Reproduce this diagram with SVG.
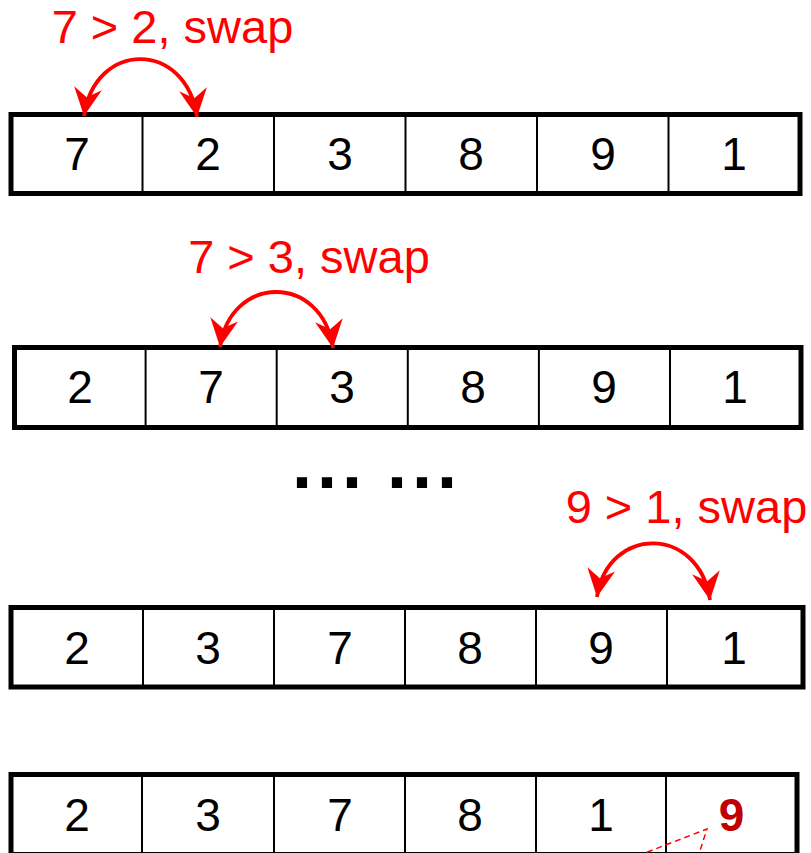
<svg xmlns="http://www.w3.org/2000/svg" width="811" height="853" viewBox="0 0 811 853">
<defs>
<style>
.frame{fill:#fff;stroke:#000;stroke-width:5}
.div{stroke:#000;stroke-width:2}
.num{font-family:"Liberation Sans",Arial,sans-serif;font-size:46px;text-anchor:middle;fill:#000}
.lbl{font-family:"Liberation Sans",Arial,sans-serif;font-size:47px;text-anchor:middle;fill:#ff0000}
.arc{fill:none;stroke:#ff0000;stroke-width:3.8}
.dots{font-family:"Liberation Sans",Arial,sans-serif;font-size:72px;font-weight:bold;fill:#000}
.hl{font-family:"Liberation Sans",Arial,sans-serif;font-size:46px;font-weight:bold;text-anchor:middle;fill:#c00000}
.dash{fill:none;stroke:#ff0000;stroke-width:1.5;stroke-dasharray:6 4}
</style>
<marker id="ah" viewBox="-30 -15 31 30" refX="0" refY="0" markerWidth="31" markerHeight="30" markerUnits="userSpaceOnUse" orient="auto-start-reverse" overflow="visible">
<path d="M0,0 L-28,-14 L-19,0 L-28,14 Z" fill="#ff0000"/>
</marker>
</defs>
<rect width="811" height="853" fill="#fff"/>

<g id="row1">
<rect class="frame" x="11" y="114.5" width="789" height="79"/>
<path class="div" d="M142.5,114.5V193.5M274,114.5V193.5M405.5,114.5V193.5M537,114.5V193.5M668.5,114.5V193.5"/>
<text class="num" x="77" y="170">7</text>
<text class="num" x="208" y="170">2</text>
<text class="num" x="340" y="170">3</text>
<text class="num" x="471" y="170">8</text>
<text class="num" x="603" y="170">9</text>
<text class="num" x="734" y="170">1</text>
</g>

<g id="label1"><text class="lbl" x="172.5" y="43">7 &gt; 2, swap</text></g>

<g id="row2">
<rect class="frame" x="14.5" y="347.5" width="786.5" height="80"/>
<path class="div" d="M145.6,347.5V427.5M276.7,347.5V427.5M407.8,347.5V427.5M538.9,347.5V427.5M670,347.5V427.5"/>
<text class="num" x="80" y="403">2</text>
<text class="num" x="211" y="403">7</text>
<text class="num" x="342" y="403">3</text>
<text class="num" x="473" y="403">8</text>
<text class="num" x="604" y="403">9</text>
<text class="num" x="735" y="403">1</text>
</g>

<g id="label2"><text class="lbl" x="309" y="273">7 &gt; 3, swap</text></g>

<g id="ellipsis"><text class="dots" x="292 317 342 365 387 412 437" y="488">... ...</text></g>

<g id="label3"><text class="lbl" x="686.5" y="523">9 &gt; 1, swap</text></g>

<g id="row3">
<rect class="frame" x="11" y="607.5" width="792" height="79.5"/>
<path class="div" d="M143,607.5V687M274,607.5V687M405,607.5V687M536,607.5V687M667,607.5V687"/>
<text class="num" x="77" y="664">2</text>
<text class="num" x="208" y="664">3</text>
<text class="num" x="340" y="664">7</text>
<text class="num" x="470" y="664">8</text>
<text class="num" x="601" y="664">9</text>
<text class="num" x="734" y="664">1</text>
</g>

<g id="row4">
<rect class="frame" x="11" y="774.5" width="786" height="80"/>
<path class="div" d="M142,774.5V854.5M274,774.5V854.5M405,774.5V854.5M536,774.5V854.5M666,774.5V854.5"/>
<text class="num" x="77" y="831">2</text>
<text class="num" x="208" y="831">3</text>
<text class="num" x="340" y="831">7</text>
<text class="num" x="470" y="831">8</text>
<text class="num" x="601" y="831">1</text>
<text class="hl" x="731.5" y="831">9</text>
</g>

<g id="callout">
<path class="dash" d="M619,863 L707,829 L696,863"/>
</g>

<g id="connectors">
<path class="arc" d="M84,116 C95,40 186,40 197,117" marker-start="url(#ah)" marker-end="url(#ah)"/>
<path class="arc" d="M220,347 C231,273.5 322,273.5 333,348" marker-start="url(#ah)" marker-end="url(#ah)"/>
<path class="arc" d="M597,597 C608,525 699,525 710,600" marker-start="url(#ah)" marker-end="url(#ah)"/>
</g>
</svg>
